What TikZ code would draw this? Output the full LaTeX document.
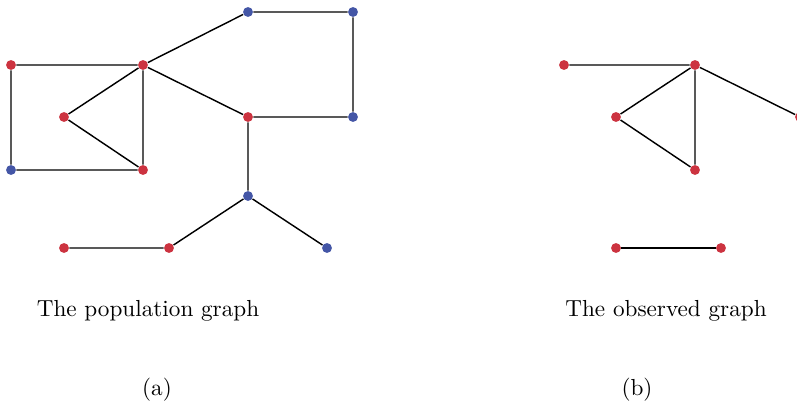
\documentclass[tikz,border=0pt]{standalone}
\usepackage{amsmath,amssymb}
\usepackage{tikz}
\usetikzlibrary{positioning}
\usepackage{xcolor}
\definecolor{redvtx}{HTML}{CC3340}
\definecolor{bluevtx}{HTML}{4456A6}
\tikzset{
  rv/.style={circle,fill=redvtx,inner sep=0pt,minimum size=0.145cm},
  bv/.style={circle,fill=bluevtx,inner sep=0pt,minimum size=0.145cm},
  edge/.style={draw=black,line width=0.6pt},
  caption/.style={font=\normalsize,inner sep=0pt,scale=0.97}
}
\begin{document}
\begin{tikzpicture}[x=0.0147cm,y=-0.0147cm]
        \useasboundingbox (0,0) rectangle (797,408);
        \clip (0,0) rectangle (797,408);
        % population graph
        \node[rv] (pa) at (11,65) {};
        \node[rv] (pb) at (143,65) {};
        \node[rv] (pc) at (64,117) {};
        \node[bv] (pd) at (11,170) {};
        \node[rv] (pe) at (143,170) {};
        \node[bv] (pf) at (248,12) {};
        \node[bv] (pg) at (353,12) {};
        \node[rv] (ph) at (248,117) {};
        \node[bv] (pi) at (353,117) {};
        \node[bv] (pj) at (248,196) {};
        \node[rv] (pk) at (64,248) {};
        \node[rv] (pl) at (169,248) {};
        \node[bv] (pm) at (327,248) {};
        \draw[edge] (pa)--(pb) (pa)--(pd) (pd)--(pe) (pb)--(pc) (pc)--(pe) (pb)--(pe);
        \draw[edge] (pb)--(pf) (pf)--(pg) (pg)--(pi) (pi)--(ph) (pb)--(ph);
        \draw[edge] (ph)--(pj) (pj)--(pl) (pl)--(pk) (pj)--(pm);
        % observed graph
        \node[rv] (oa) at (564,65) {};
        \node[rv] (ob) at (695,65) {};
        \node[rv] (oc) at (616,117) {};
        \node[rv] (oe) at (695,170) {};
        \node[rv] (oh) at (800,117) {};
        \node[rv] (ok) at (616,248) {};
        \node[rv] (ol) at (721,248) {};
        \draw[edge] (oa)--(ob) (ob)--(oc) (oc)--(oe) (ob)--(oe) (ob)--(oh);
        \draw[edge] (ok)--(ol);
        % captions
        \node[caption] (tp) at (148,311) {The population graph};
        \node[caption] (to) at (666,311) {The observed graph};
        \node[caption] (la) at (157,390) {(a)};
        \node[caption] (lb) at (637,390) {(b)};
      \end{tikzpicture}
\end{document}
